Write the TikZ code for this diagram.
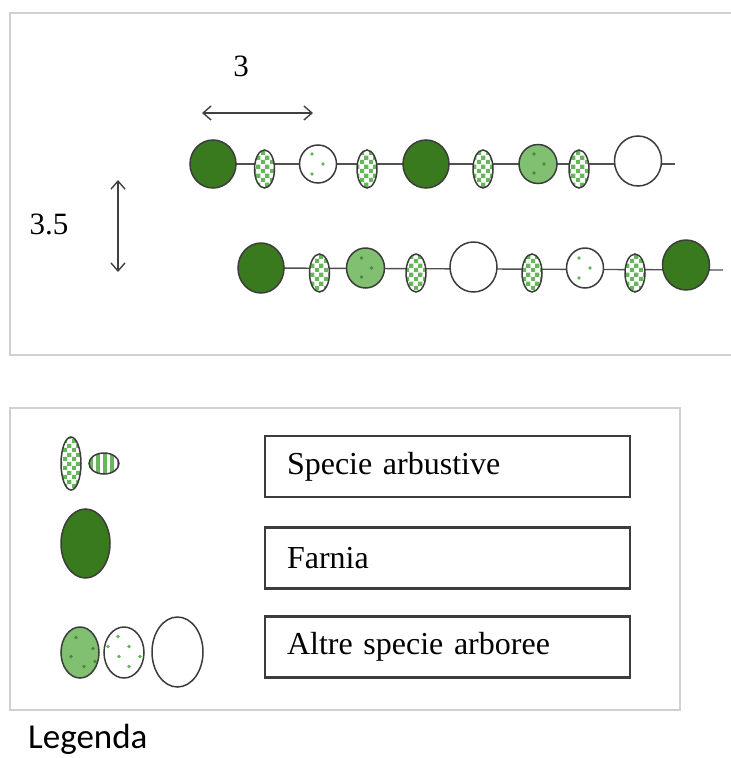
\documentclass[tikz,border=0pt]{standalone}
\usepackage{fontspec}
\setmainfont{Liberation Serif}
\newfontfamily\legendfont{Carlito}
\usetikzlibrary{shapes.geometric, arrows.meta, patterns, patterns.meta, backgrounds}

\definecolor{oakgreen}{RGB}{58,122,30}
\definecolor{treegreen}{RGB}{128,192,112}
\definecolor{dotgreen}{RGB}{96,184,84}
\definecolor{darkdot}{RGB}{70,140,60}
\definecolor{shrubgreen}{RGB}{104,182,92}
\definecolor{framegray}{RGB}{208,208,208}
\definecolor{edgegray}{RGB}{60,60,60}

\tikzdeclarepattern{
  name=shrubchecks,
  type=uncolored,
  bottom left={(0pt,0pt)},
  top right={(9pt,9pt)},
  tile size={(9pt,9pt)},
  code={
    \fill (0pt,0pt) rectangle (4.5pt,4.5pt);
    \fill (4.5pt,4.5pt) rectangle (9pt,9pt);
  }
}

\tikzset{
  plant/.style={ellipse, draw=edgegray, line width=1.5pt, inner sep=0pt},
  oak/.style={plant, fill=oakgreen, minimum width=46pt, minimum height=48pt},
  shrub/.style={plant, preaction={fill=white}, pattern=shrubchecks, pattern color=shrubgreen,
    minimum width=20pt, minimum height=38pt},
  dots/.style 2 args={path picture={
    \foreach \dx/\dy in {#2} \fill[#1] (path picture bounding box.center) ++(\dx,\dy) circle (1.8pt);}},
  greentree/.style={plant, fill=treegreen, minimum width=38pt, minimum height=39pt,
    dots={darkdot}{-4/-10,6/0,-4/9}},
  dottree/.style={plant, fill=white, minimum width=37pt, minimum height=38pt,
    dots={dotgreen}{-6/-10,5/0,-6/10}},
  whitetree/.style={plant, fill=white, minimum width=47pt, minimum height=50pt},
  stem/.style={draw=edgegray!90, line width=1.4pt},
  frame/.style={draw=framegray, line width=2.2pt},
  dim/.style={<->, >={Straight Barb[length=8pt, width=14pt]}, draw=black!75, line width=1.4pt},
  lbl/.style={font=\fontsize{31}{36}\selectfont},
  keybox/.style={draw=edgegray, line width=2.4pt, minimum width=365pt, minimum height=61pt,
    text width=321pt, inner xsep=22pt, align=left, font=\fontsize{32}{38}\selectfont}
}

\begin{document}
\begin{tikzpicture}[x=1pt, y=-1pt]
            \useasboundingbox (0,0) rectangle (731,758);

            \draw [frame] (735,13) -- (10,13) -- (10,355) -- (735,355);
            \draw [frame] (10,408) rectangle (680,710);

            \node [lbl] (wlab) at (241,66) {3};
            \coordinate (wl) at (202,113);
            \coordinate (wr) at (313,113);
            \draw [dim] (wl) -- (wr);

            \node [lbl] (hlab) at (49,224) {3.5};
            \coordinate (ht) at (118,180);
            \coordinate (hb) at (118,272);
            \draw [dim] (ht) -- (hb);

            \node [oak] (oakA) at (213,164) {};
            \node [shrub] (shrubA) at (264.5,169) {};
            \node [dottree] (dotA) at (318,164) {};
            \node [shrub] (shrubB) at (367,169) {};
            \node [oak] (oakB) at (426,164) {};
            \node [shrub] (shrubC) at (483,169) {};
            \node [greentree] (greenA) at (538,164) {};
            \node [shrub] (shrubD) at (579,169) {};
            \node [whitetree] (whiteA) at (638,161) {};
            \coordinate (endA) at (675,164);

            \node [oak, minimum height=50pt] (oakC) at (261,268) {};
            \node [shrub] (shrubE) at (319.5,273) {};
            \node [greentree, minimum height=40pt] (greenB) at (365.5,268) {};
            \node [shrub] (shrubF) at (416,273) {};
            \node [whitetree] (whiteB) at (473.5,267) {};
            \node [shrub] (shrubG) at (532,273) {};
            \node [dottree, minimum height=40pt] (dotB) at (585,268) {};
            \node [shrub] (shrubH) at (635,273) {};
            \node [oak, minimum width=47pt, minimum height=50pt] (oakD) at (686,265) {};
            \coordinate (endB) at (723,270);

            \begin{scope}[on background layer]
                \draw [stem] (oakA.center) -- (endA);
                \draw [stem] (oakC.center) -- (endB);
            \end{scope}

            \node [shrub, minimum height=53pt] (keyshrub) at (71,463.5) {};
            \node [plant, preaction={fill=white}, pattern={Lines[angle=90, distance=7pt, line width=3.5pt]},
                pattern color=shrubgreen, minimum width=30pt, minimum height=21pt] (keyhedge) at (104,463.5) {};
            \node [oak, minimum width=49pt, minimum height=69pt] (keyoak) at (85.5,543.5) {};
            \node [greentree, minimum width=38pt, minimum height=51pt,
                dots={darkdot}{-4/-15,13/-4,-9/4,4/14,15/9}] (keygreen) at (80,652.5) {};
            \node [dottree, minimum width=40pt, minimum height=51pt,
                dots={dotgreen}{-6/-16,5/-6,-16/-6,-5/4,16/4,5/14}] (keydot) at (124,652.5) {};
            \node [whitetree, minimum width=51pt, minimum height=70pt] (keywhite) at (177.5,652) {};

            \node [keybox] (shrubkey) at (447.5,466.5) {Specie arbustive};
            \node [keybox] (oakkey) at (447.5,558) {Farnia};
            \node [keybox] (treekey) at (447.5,647) {Altre specie arboree};

            \node [anchor=base west, inner sep=0pt, font=\legendfont\fontsize{35}{42}\selectfont] (legend) at (28,748) {Legenda};
        \end{tikzpicture}
\end{document}
